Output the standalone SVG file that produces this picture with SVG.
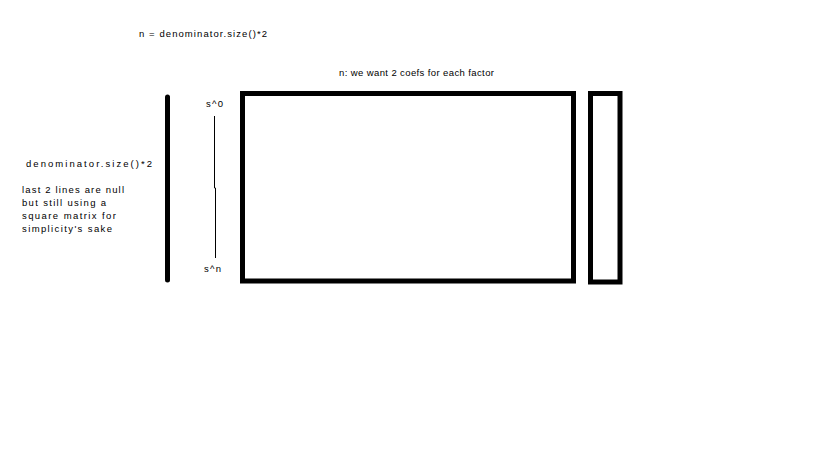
<svg xmlns="http://www.w3.org/2000/svg" width="819" height="460" viewBox="0 0 819 460">
<style>
text{font-family:"Liberation Sans",Arial,sans-serif;font-size:9.5px;fill:#000}
.box{fill:none;stroke:#000;stroke-width:5}
</style>
<rect width="819" height="460" fill="#fff"/>
<g id="title"><text x="139" y="37" textLength="128" lengthAdjust="spacing">n = denominator.size()*2</text></g>
<g id="subtitle"><text x="339" y="76" textLength="155" lengthAdjust="spacing">n: we want 2 coefs for each factor</text></g>
<g id="left-notes">
<text x="26" y="167" textLength="126" lengthAdjust="spacing">denominator.size()*2</text>
<text x="22" y="193" textLength="102" lengthAdjust="spacing">last 2 lines are null</text>
<text x="22" y="206" textLength="84" lengthAdjust="spacing">but still using a</text>
<text x="22" y="219" textLength="94" lengthAdjust="spacing">square matrix for</text>
<text x="22" y="232" textLength="90" lengthAdjust="spacing">simplicity's sake</text>
</g>
<g id="left-bar"><line x1="167.5" y1="97" x2="167.5" y2="280" stroke="#000" stroke-width="5" stroke-linecap="round"/></g>
<g id="labels">
<text x="206" y="107" textLength="17" lengthAdjust="spacing">s^0</text>
<text x="204" y="272" textLength="17" lengthAdjust="spacing">s^n</text>
</g>
<g id="connectors">
<polyline points="214.5,116 214.5,188 215.5,188 215.5,258" fill="none" stroke="#000" stroke-width="1"/>
</g>
<g id="matrix"><rect class="box" x="242.5" y="93.5" width="331" height="187.5"/></g>
<g id="vector"><rect class="box" x="590.5" y="93.5" width="29.5" height="188.5"/></g>
</svg>
